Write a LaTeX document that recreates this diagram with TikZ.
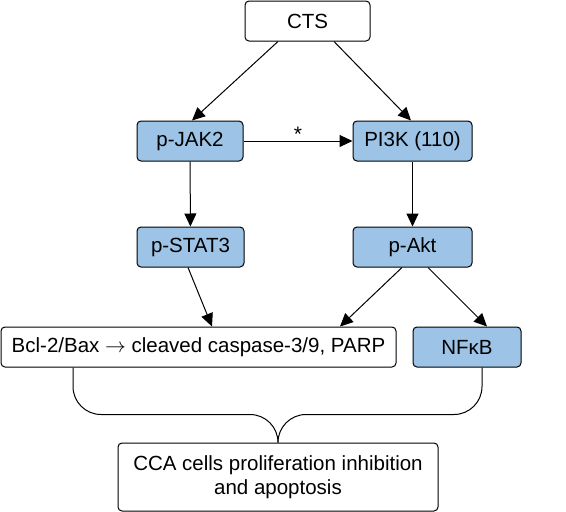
\documentclass[tikz,border=0pt]{standalone}
\usepackage{fontspec}
\setmainfont{Liberation Sans}
\usepackage{tikz}
\usepackage{xcolor}
\usetikzlibrary{arrows.meta,positioning}

\definecolor{kinase}{RGB}{157,195,230}

\begin{document}
\begin{tikzpicture}[
  x=1pt, y=-1pt,
  every node/.style={draw, rounded corners=4pt, line width=1pt, minimum height=40pt, inner sep=0pt, font=\fontsize{20.5}{24}\selectfont},
  plain/.style={fill=white},
  kin/.style={fill=kinase},
  arr/.style={-{Triangle[length=13pt,width=12pt]}, line width=1pt},
  brace/.style={line width=1pt, rounded corners=28pt}
]
\useasboundingbox (0,0) rectangle (566,512);

% top
\node[plain, minimum width=125pt] (CTS) at (307.5,21) {CTS};

% kinases
\node[kin, minimum width=106pt] (JAK2) at (190,141) {p-JAK2};
\node[kin, minimum width=119pt] (PI3K) at (412.5,141) {PI3K (110)};
\node[kin, minimum width=107pt] (STAT3) at (190.5,247) {p-STAT3};
\node[kin, minimum width=119pt] (Akt) at (412.5,247) {p-Akt};

% effectors
\node[plain, minimum width=395pt] (Bcl) at (198.5,347) {Bcl-2/Bax $\rightarrow$ cleaved caspase-3/9, PARP};
\node[kin, minimum width=108pt] (NFkB) at (467,347) {NFκB};

% outcome
\node[plain, minimum width=320pt, minimum height=68pt, align=center] (CCA) at (278,477) {CCA cells proliferation inhibition\\and apoptosis};
\coordinate[above=28pt of CCA] (join);

\draw[arr] ([xshift=-29.5pt]CTS.south) -- ([xshift=2pt]JAK2.north);
\draw[arr] ([xshift=26.5pt]CTS.south) -- ([xshift=-1.5pt]PI3K.north);
\draw[arr] (JAK2) -- node[draw=none, minimum height=0pt, above=-1pt, font=\fontsize{21}{21}\selectfont] (star) {*} (PI3K);
\draw[arr] (JAK2) -- (STAT3);
\draw[arr] (PI3K) -- (Akt);
\draw[arr] ([xshift=-2.5pt]STAT3.south) -- ([xshift=13.5pt]Bcl.north);
\draw[arr] ([xshift=-10.5pt]Akt.south) -- ([xshift=141.5pt]Bcl.north);
\draw[arr] ([xshift=15.5pt]Akt.south) -- ([xshift=20pt]NFkB.north);

% brace
\draw[brace] ([xshift=-125.5pt]Bcl.south) |- (join) -- (CCA.north);
\draw[brace] ([xshift=15pt]NFkB.south) |- (join) -- (CCA.north);

\end{tikzpicture}
\end{document}
